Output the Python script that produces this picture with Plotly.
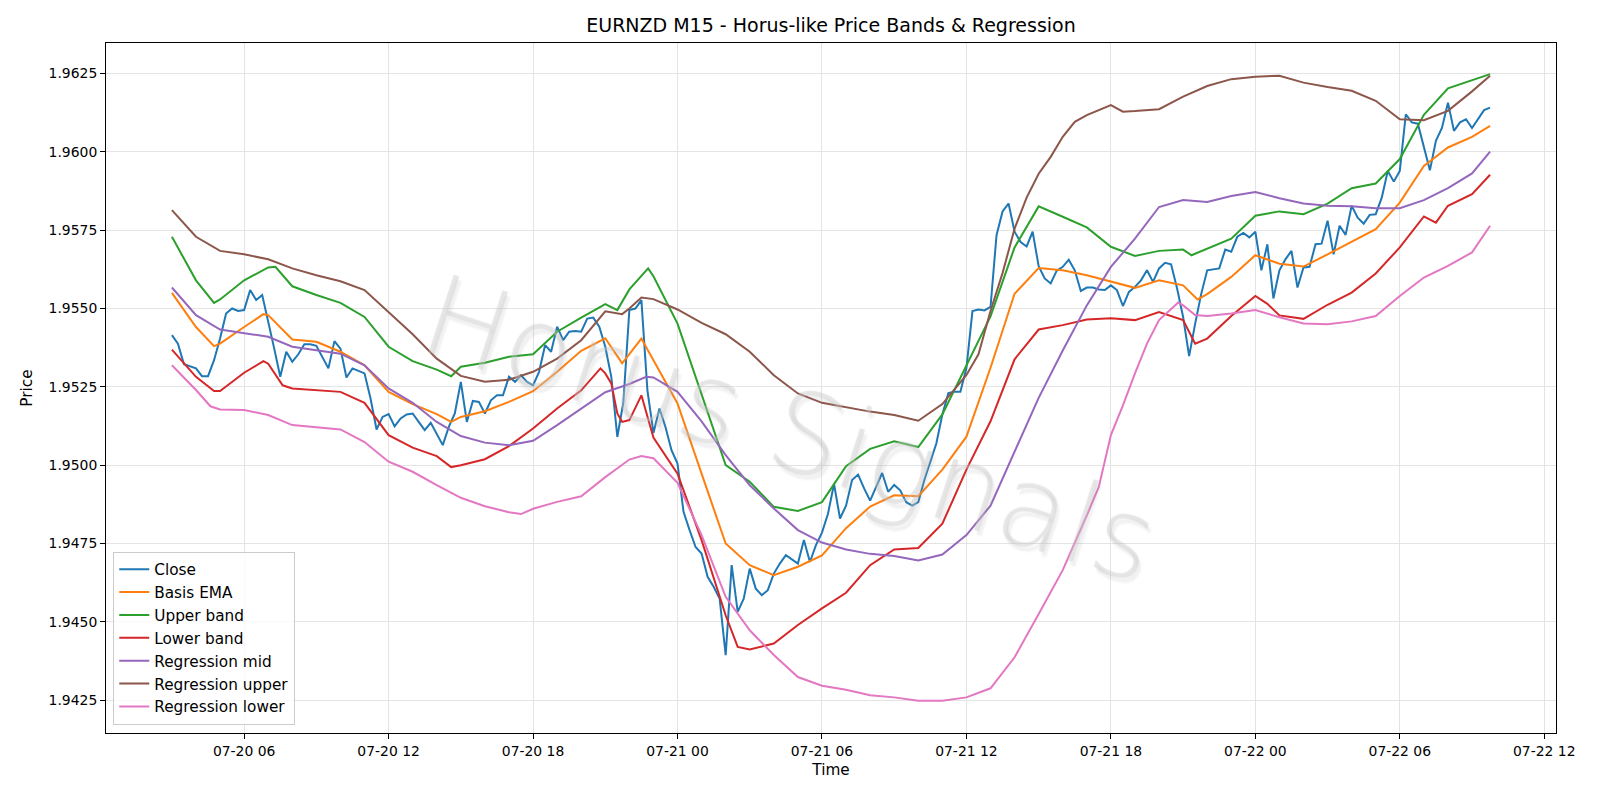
import pandas as pd
import plotly.graph_objects as go

BASE = pd.Timestamp("2025-07-20 03:00")

# Close, 15-minute bars starting 07-20 03:00
close = [
    1.95415, 1.95388, 1.95322, 1.95316, 1.95309, 1.95284, 1.95284, 1.95335, 1.95404, 1.95484,
    1.95500, 1.95492, 1.95495, 1.95559, 1.95527, 1.95543, 1.95452, 1.95372, 1.95282, 1.95362,
    1.95330, 1.95354, 1.95386, 1.95386, 1.95381, 1.95346, 1.95309, 1.95396, 1.95372, 1.95280,
    1.95309, 1.95301, 1.95293, 1.95213, 1.95114, 1.95154, 1.95163, 1.95124, 1.95149, 1.95162,
    1.95165, 1.95138, 1.95112, 1.95135, 1.95101, 1.95064, 1.95122, 1.95165, 1.95266, 1.95138,
    1.95205, 1.95202, 1.95165, 1.95207, 1.95223, 1.95223, 1.95282, 1.95266, 1.95287, 1.95266,
    1.95255, 1.95298, 1.95383, 1.95362, 1.95442, 1.95399, 1.95426, 1.95428, 1.95426, 1.95468,
    1.95471, 1.95442, 1.95378, 1.95282, 1.95090, 1.95200, 1.95495, 1.95500, 1.95527, 1.95239,
    1.95103, 1.95181, 1.95122, 1.95048, 1.95005, 1.94851, 1.94793, 1.94739, 1.94718, 1.94644,
    1.94612, 1.94574, 1.94394, 1.94681, 1.94532, 1.94574, 1.94670, 1.94606, 1.94585, 1.94601,
    1.94654, 1.94686, 1.94713, 1.94699, 1.94686, 1.94761, 1.94691, 1.94745, 1.94785, 1.94845,
    1.94940, 1.94830, 1.94871, 1.94953, 1.94970, 1.94926, 1.94887, 1.94931, 1.94975, 1.94915,
    1.94937, 1.94920, 1.94882, 1.94871, 1.94882, 1.94953, 1.95008, 1.95069, 1.95162, 1.95230,
    1.95234, 1.95234, 1.95310, 1.95492, 1.95497, 1.95494, 1.95505, 1.95734, 1.95810, 1.95835,
    1.95745, 1.95712, 1.95698, 1.95745, 1.95635, 1.95596, 1.95580, 1.95621, 1.95633, 1.95656,
    1.95622, 1.95556, 1.95567, 1.95567, 1.95561, 1.95559, 1.95574, 1.95559, 1.95508, 1.95553,
    1.95569, 1.95590, 1.95622, 1.95585, 1.95628, 1.95646, 1.95641, 1.95564, 1.95473, 1.95348,
    1.95452, 1.95546, 1.95622, 1.95626, 1.95628, 1.95688, 1.95681, 1.95729, 1.95741, 1.95727,
    1.95745, 1.95622, 1.95705, 1.95532, 1.95622, 1.95657, 1.95684, 1.95567, 1.95631, 1.95633,
    1.95705, 1.95707, 1.95780, 1.95673, 1.95764, 1.95735, 1.95828, 1.95790, 1.95771, 1.95799,
    1.95801, 1.95854, 1.95939, 1.95905, 1.95939, 1.96120, 1.96094, 1.96090, 1.96014, 1.95941,
    1.96035, 1.96076, 1.96157, 1.96067, 1.96094, 1.96104, 1.96076, 1.96104, 1.96133, 1.96141,
]

# Smooth series: hours since 07-20 03:00 and values
ema_h = [0, 1, 1.75, 2, 3, 3.8, 4, 5, 6, 7, 8, 9, 10, 11, 11.6, 12, 13, 14, 15, 16, 17, 18, 18.7, 19, 19.5, 20,
         21, 22, 23, 24, 25, 26, 27, 28, 29, 30, 31, 32, 33, 34, 35, 36, 37, 38, 39, 40, 41, 42, 42.6, 43,
         44, 45, 46, 47, 48, 49, 50, 51, 52, 53, 54, 54.75]
ema_v = [1.95550, 1.95441, 1.95380, 1.95388, 1.95441, 1.95482, 1.95479, 1.95401, 1.95394, 1.95362,
         1.95319, 1.95234, 1.95195, 1.95163, 1.95138, 1.95154, 1.95172, 1.95202, 1.95236, 1.95298,
         1.95365, 1.95405, 1.95325, 1.95356, 1.95404, 1.95335, 1.95197, 1.94973, 1.94750, 1.94681,
         1.94649, 1.94676, 1.94712, 1.94799, 1.94868, 1.94904, 1.94901, 1.94986, 1.95091, 1.95311,
         1.95547, 1.95629, 1.95622, 1.95606, 1.95585, 1.95566, 1.95590, 1.95574, 1.95529, 1.95546,
         1.95601, 1.95670, 1.95643, 1.95634, 1.95673, 1.95714, 1.95753, 1.95838, 1.95955, 1.96014,
         1.96048, 1.96083]

up_h = [0, 1, 1.75, 2, 3, 4, 4.3, 5, 6, 7, 8, 9, 10, 11, 11.6, 12, 13, 14, 15, 16, 17, 18, 18.5, 19, 19.78, 20,
        21, 22, 23, 24, 25, 26, 27, 28, 29, 30, 31, 32, 33, 34, 35, 36, 37, 38, 39, 40, 41, 42, 42.35, 43,
        44, 45, 46, 47, 48, 49, 50, 51, 52, 53, 54, 54.75]
up_v = [1.95729, 1.95590, 1.95518, 1.95529, 1.95590, 1.95631, 1.95633, 1.95571, 1.95543, 1.95518,
        1.95473, 1.95378, 1.95332, 1.95305, 1.95284, 1.95314, 1.95327, 1.95346, 1.95354, 1.95426,
        1.95471, 1.95514, 1.95495, 1.95561, 1.95628, 1.95603, 1.95452, 1.95229, 1.95000, 1.94947,
        1.94867, 1.94854, 1.94882, 1.94997, 1.95052, 1.95076, 1.95058, 1.95162, 1.95316, 1.95475,
        1.95695, 1.95826, 1.95793, 1.95759, 1.95697, 1.95668, 1.95684, 1.95688, 1.95670, 1.95691,
        1.95723, 1.95796, 1.95810, 1.95801, 1.95835, 1.95884, 1.95899, 1.95977, 1.96118, 1.96203,
        1.96229, 1.96248]

lo_h = [0, 1, 1.75, 2, 3, 3.8, 4, 4.6, 5, 6, 7, 8, 9, 10, 11, 11.6, 12, 13, 14, 15, 16, 17, 17.8, 18, 18.25,
        18.5, 18.7, 19, 19.5, 20, 21, 22, 23, 23.5, 24, 25, 26, 27, 28, 29, 30, 31, 32, 33, 34, 35, 36, 37,
        38, 39, 40, 41, 42, 42.5, 43, 44, 45, 45.5, 46, 47, 48, 49, 50, 51, 52, 52.5, 53, 54, 54.75]
lo_v = [1.95369, 1.95282, 1.95237, 1.95237, 1.95295, 1.95332, 1.95324, 1.95255, 1.95245, 1.95240,
        1.95234, 1.95199, 1.95096, 1.95056, 1.95029, 1.94994, 1.95000, 1.95019, 1.95061, 1.95117,
        1.95181, 1.95239, 1.95309, 1.95293, 1.95261, 1.95165, 1.95138, 1.95144, 1.95223, 1.95088,
        1.94973, 1.94761, 1.94521, 1.94420, 1.94412, 1.94431, 1.94490, 1.94543, 1.94593, 1.94681,
        1.94731, 1.94736, 1.94813, 1.94986, 1.95140, 1.95338, 1.95433, 1.95447, 1.95465, 1.95469,
        1.95463, 1.95489, 1.95463, 1.95388, 1.95404, 1.95476, 1.95540, 1.95515, 1.95478, 1.95467,
        1.95512, 1.95551, 1.95612, 1.95695, 1.95794, 1.95774, 1.95828, 1.95865, 1.95927]

mid_h = [0, 1, 2, 3, 4, 5, 6, 7, 8, 9, 10, 11, 12, 13, 14, 15, 16, 17, 18, 19, 19.7, 20,
         21, 22, 23, 24, 25, 26, 27, 28, 29, 30, 31, 32, 33, 34, 35, 36, 37, 38, 39,
         40, 41, 42, 43, 44, 45, 46, 47, 48, 49, 50, 51, 52, 53, 54, 54.75]
mid_v = [1.95567, 1.95479, 1.95433, 1.95422, 1.95410, 1.95378, 1.95367, 1.95356, 1.95319, 1.95245,
         1.95199, 1.95138, 1.95093, 1.95072, 1.95064, 1.95078, 1.95128, 1.95181, 1.95233, 1.95259,
         1.95282, 1.95280, 1.95234, 1.95140, 1.95032, 1.94936, 1.94862, 1.94793, 1.94753, 1.94731,
         1.94717, 1.94710, 1.94696, 1.94715, 1.94777, 1.94871, 1.95045, 1.95215, 1.95366, 1.95510,
         1.95633, 1.95723, 1.95824, 1.95846, 1.95840, 1.95859, 1.95872, 1.95852, 1.95835, 1.95828,
         1.95826, 1.95820, 1.95820, 1.95846, 1.95884, 1.95931, 1.96001]

rup_h = [0, 1, 2, 3, 4, 5, 6, 7, 8, 9, 10, 11, 12, 13, 14, 15, 16, 17, 18, 18.7, 19, 19.5, 20,
         21, 22, 23, 24, 25, 26, 27, 28, 29, 30, 31, 32, 33, 33.5, 34, 34.5, 35, 35.5, 36, 36.5,
         37, 37.5, 38, 39, 39.5, 40, 41, 42, 43, 44, 45, 46, 47, 48, 49, 50, 51, 52, 53, 54, 54.75]
rup_v = [1.95814, 1.95729, 1.95684, 1.95673, 1.95657, 1.95628, 1.95606, 1.95587, 1.95559, 1.95489,
         1.95418, 1.95340, 1.95285, 1.95266, 1.95273, 1.95298, 1.95340, 1.95399, 1.95491, 1.95482,
         1.95500, 1.95535, 1.95530, 1.95497, 1.95454, 1.95418, 1.95362, 1.95287, 1.95229, 1.95199,
         1.95184, 1.95171, 1.95160, 1.95142, 1.95195, 1.95288, 1.95354, 1.95492, 1.95613, 1.95755,
         1.95854, 1.95930, 1.95984, 1.96048, 1.96096, 1.96117, 1.96149, 1.96128, 1.96130, 1.96136,
         1.96176, 1.96210, 1.96232, 1.96240, 1.96243, 1.96221, 1.96207, 1.96195, 1.96163, 1.96104,
         1.96101, 1.96131, 1.96193, 1.96243]

rlo_h = [0, 1, 1.6, 2, 3, 4, 5, 6, 7, 8, 9, 10, 11, 12, 13, 14, 14.5, 15, 16, 17, 18, 19, 19.5, 20,
         21, 22, 23, 24, 25, 26, 27, 28, 29, 30, 31, 32, 33, 34, 35, 36, 37, 38, 38.5, 39, 39.5,
         40, 40.5, 41, 41.8, 42, 42.5, 43, 44, 45, 46, 47, 48, 49, 50, 51, 52, 53, 54, 54.75]
rlo_v = [1.95319, 1.95240, 1.95188, 1.95178, 1.95176, 1.95160, 1.95128, 1.95120, 1.95114, 1.95074,
         1.95011, 1.94979, 1.94936, 1.94896, 1.94869, 1.94850, 1.94844, 1.94861, 1.94883, 1.94901,
         1.94962, 1.95018, 1.95029, 1.95022, 1.94944, 1.94777, 1.94580, 1.94473, 1.94394, 1.94324,
         1.94296, 1.94283, 1.94266, 1.94259, 1.94248, 1.94248, 1.94259, 1.94288, 1.94387, 1.94525,
         1.94665, 1.94840, 1.94931, 1.95096, 1.95191, 1.95293, 1.95388, 1.95463, 1.95519, 1.95510,
         1.95479, 1.95476, 1.95484, 1.95495, 1.95472, 1.95452, 1.95450, 1.95459, 1.95476, 1.95540,
         1.95599, 1.95636, 1.95679, 1.95764]

y_ticks = [1.9425, 1.9450, 1.9475, 1.9500, 1.9525, 1.9550, 1.9575, 1.9600, 1.9625]


def to_time(hours):
    return [BASE + pd.Timedelta(hours=h) for h in hours]


close_t = [BASE + pd.Timedelta(minutes=15 * i) for i in range(len(close))]

series = [
    ("Close", close_t, close, "#1f77b4"),
    ("Basis EMA", to_time(ema_h), ema_v, "#ff7f0e"),
    ("Upper band", to_time(up_h), up_v, "#2ca02c"),
    ("Lower band", to_time(lo_h), lo_v, "#d62728"),
    ("Regression mid", to_time(mid_h), mid_v, "#9467bd"),
    ("Regression upper", to_time(rup_h), rup_v, "#8c564b"),
    ("Regression lower", to_time(rlo_h), rlo_v, "#e377c2"),
]

fig = go.Figure()
for name, t, v, c in series:
    fig.add_trace(go.Scatter(x=t, y=v, mode="lines", name=name,
                             line=dict(color=c, width=2)))

FONT = "DejaVu Sans"
axis_common = dict(showline=True, mirror=True, linecolor="black", linewidth=1,
                   ticks="outside", ticklen=5, tickcolor="black",
                   showgrid=True, gridcolor="#e4e4e4", gridwidth=1, zeroline=False,
                   tickfont=dict(family=FONT, size=13.9, color="black"))

fig.update_layout(
    width=1600, height=800,
    margin=dict(l=106, r=44, t=43, b=67),
    paper_bgcolor="white", plot_bgcolor="white",
    font=dict(family=FONT, color="black"),
    title=dict(text="EURNZD M15 - Horus-like Price Bands & Regression",
               x=0.5, xref="paper", xanchor="center",
               y=1 - 25.5 / 800, yref="container", yanchor="middle",
               font=dict(family=FONT, size=19, color="black")),
    xaxis=dict(range=[pd.Timestamp("2025-07-20 00:15:45"), pd.Timestamp("2025-07-22 12:29:15")],
               tickformat="%m-%d %H", dtick=6 * 3600 * 1000, tick0="2025-07-20 00:00",
               title=dict(text="Time", font=dict(family=FONT, size=15.3), standoff=6),
               automargin=False, **axis_common),
    yaxis=dict(range=[1.941453, 1.963474], tickvals=y_ticks,
               ticktext=[f"{v:.4f}" for v in y_ticks],
               title=dict(text="Price", font=dict(family=FONT, size=15.3), standoff=12),
               automargin=False, **axis_common),
    legend=dict(x=0.005, y=0.012, xanchor="left", yanchor="bottom",
                bgcolor="rgba(255,255,255,0.8)", bordercolor="#cccccc", borderwidth=1,
                font=dict(family=FONT, size=15.3, color="black")),
    showlegend=True,
)

fig.add_annotation(
    text="Horus Signals", xref="paper", yref="paper", x=0.472, y=0.44,
    showarrow=False, textangle=18,
    font=dict(family="DejaVu Sans Light, DejaVu Sans", size=112, weight=200,
              color="rgba(255,255,255,0.25)",
              shadow=("0 0 1px rgba(120,120,120,1), "
                      "4px 4px 2px rgba(150,150,150,0.55)")))

fig.write_html("out.html")
